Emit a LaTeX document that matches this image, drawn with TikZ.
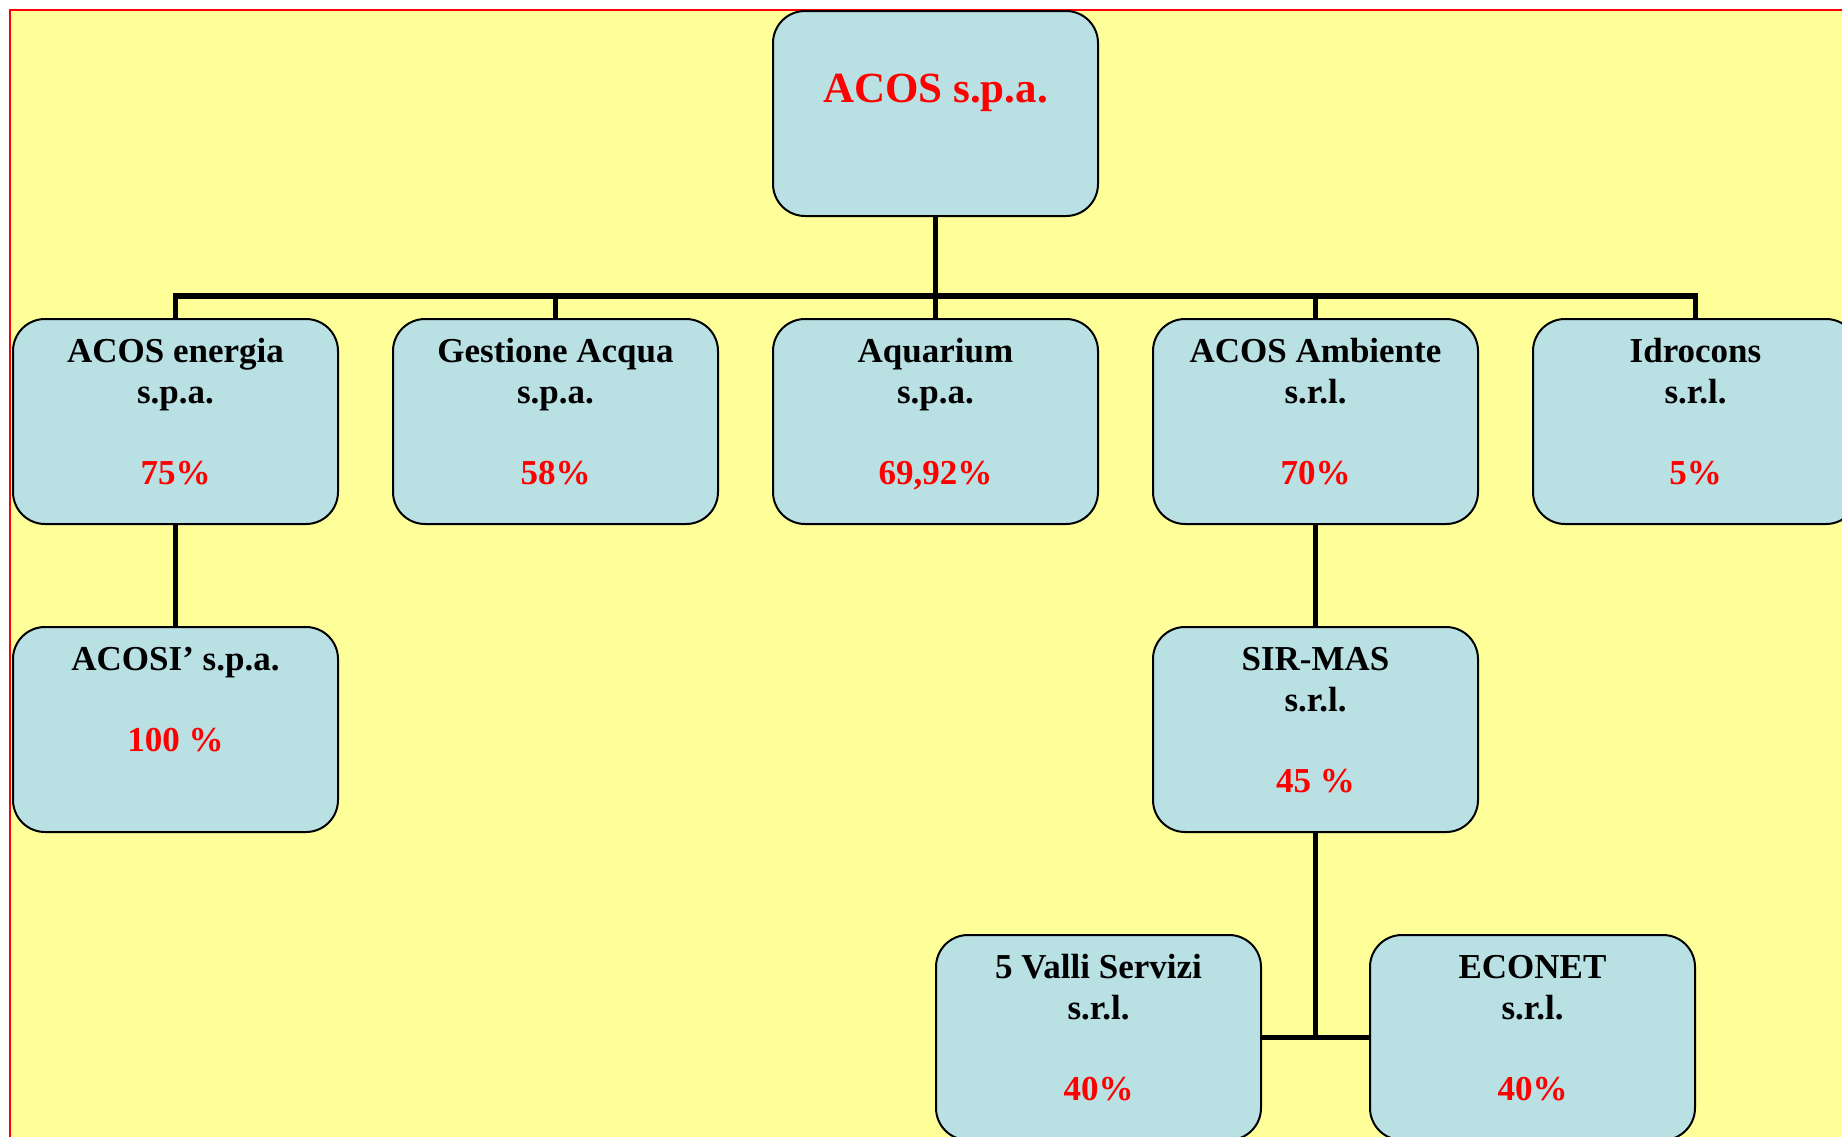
\documentclass[tikz,border=0pt]{standalone}
\usepackage{fontspec}
\setmainfont{Liberation Serif}
\usetikzlibrary{positioning}
\definecolor{sheet}{HTML}{FFFF99}
\definecolor{boxblue}{HTML}{B9E0E3}

\begin{document}
\begin{tikzpicture}[x=1pt,y=-1pt,node distance=101pt and 53pt,
  unit/.style={draw,line width=2pt,fill=boxblue,rounded corners=32pt,inner sep=0pt,
    font=\fontsize{35}{41}\selectfont\bfseries,
    execute at begin node={\begin{minipage}[c][205pt][t]{325pt}\centering\vspace*{#1}\strut},
    execute at end node={\end{minipage}}},
  unit/.default=15pt,
  link/.style={line width=5.5pt}]
  \clip (0,0) rectangle (1842,1136);
  \fill[sheet] (10,10) rectangle (1900,1200);
  \draw[red,line width=2pt] (10,10) rectangle (1900,1200);
  % holding
  \node[unit=55pt,font=\fontsize{43}{52}\selectfont\bfseries] (acos) at (935.5,113.5) {\textcolor{red}{ACOS s.p.a.}};
  % first level
  \node[unit,below=of acos] (aquarium) {Aquarium\\ s.p.a.\\[40pt] \textcolor{red}{69,92\%}};
  \node[unit,left=of aquarium] (acqua) {Gestione Acqua\\ s.p.a.\\[40pt] \textcolor{red}{58\%}};
  \node[unit,left=of acqua] (energia) {ACOS energia\\ s.p.a.\\[40pt] \textcolor{red}{75\%}};
  \node[unit,right=of aquarium] (ambiente) {ACOS Ambiente\\ s.r.l.\\[40pt] \textcolor{red}{70\%}};
  \node[unit,right=of ambiente] (idrocons) {Idrocons\\ s.r.l.\\[40pt] \textcolor{red}{5\%}};
  % second level
  \node[unit,below=of energia] (acosi) {ACOSI’ s.p.a.\\[40pt] \textcolor{red}{100 \%}};
  \node[unit,below=of ambiente] (sirmas) {SIR-MAS\\ s.r.l.\\[40pt] \textcolor{red}{45 \%}};
  % third level
  \node[unit,below=of sirmas,xshift=-217pt] (valli) {5 Valli Servizi\\ s.r.l.\\[40pt] \textcolor{red}{40\%}};
  \node[unit,below=of sirmas,xshift=217pt] (econet) {ECONET\\ s.r.l.\\[40pt] \textcolor{red}{40\%}};
  \coordinate (bus) at (935.5,296);
  \draw[link] (acos) -- (bus);
  \foreach \n in {energia,acqua,aquarium,ambiente,idrocons}
    \draw[link] (bus) -| (\n);
  \draw[link] (energia) -- (acosi);
  \draw[link] (ambiente) -- (sirmas);
  \draw[link] (sirmas) -- (sirmas |- valli.east);
  \draw[link] (valli) -- (econet);
\end{tikzpicture}
\end{document}
